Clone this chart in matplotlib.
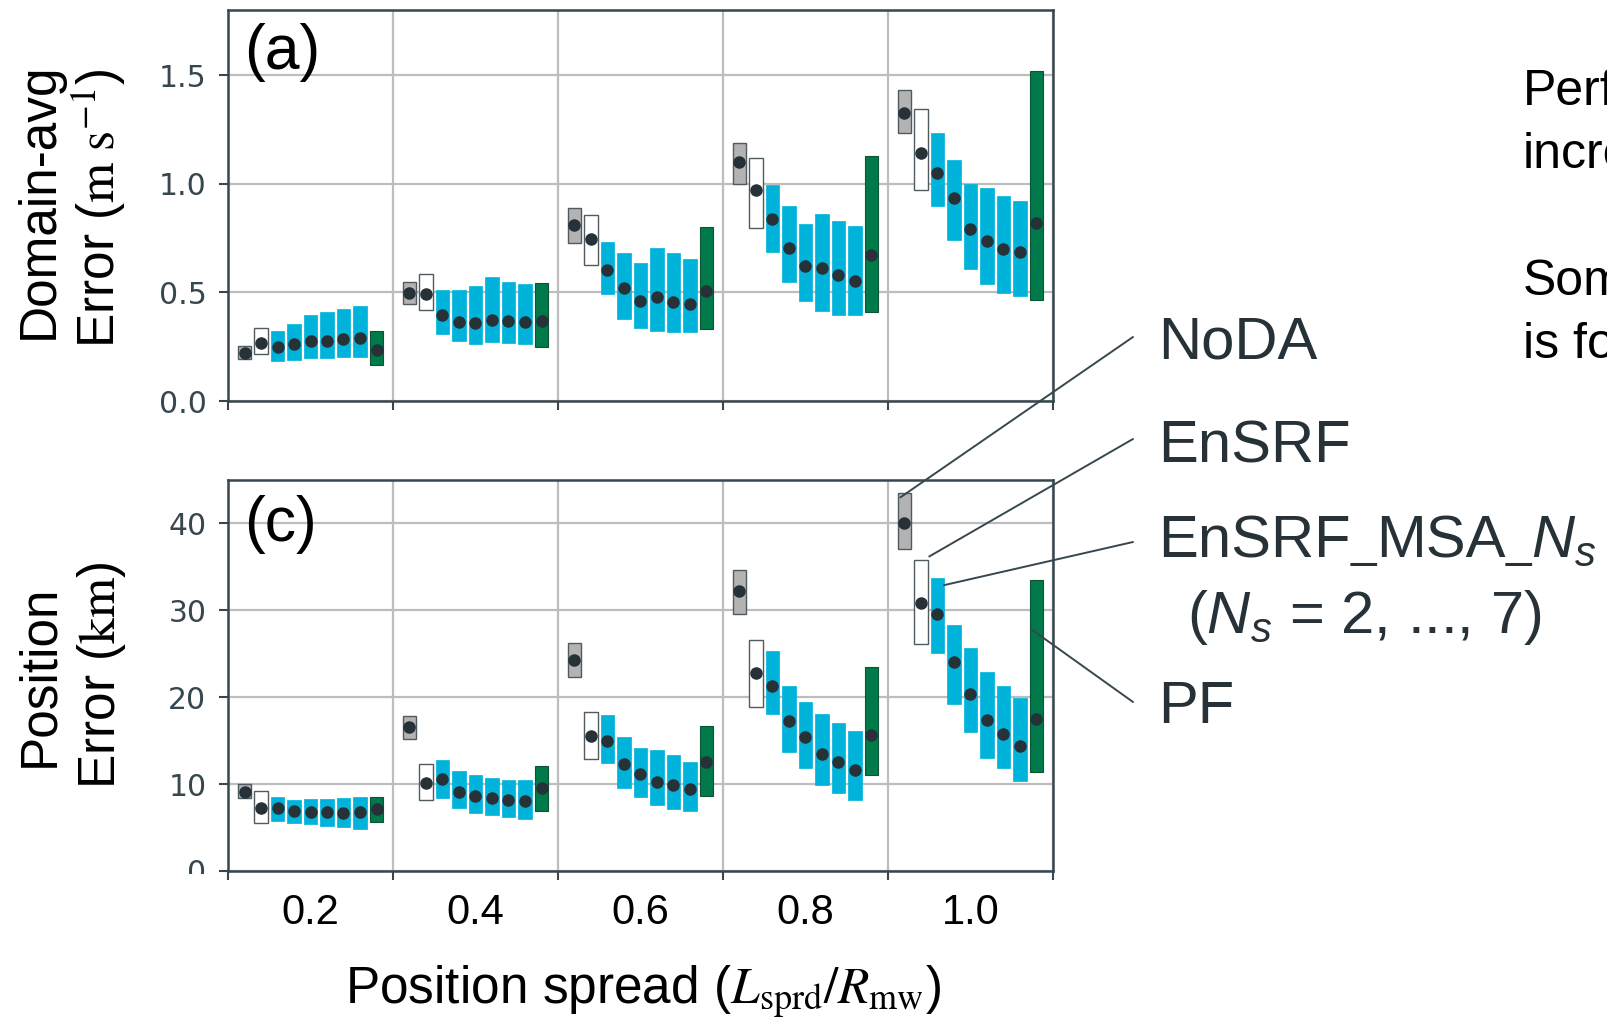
import matplotlib
matplotlib.use("Agg")
import matplotlib.pyplot as plt
import numpy as np
from matplotlib.patches import Rectangle
from matplotlib.ticker import NullFormatter

plt.rcParams['font.family'] = ['Liberation Sans', 'DejaVu Sans']
plt.rcParams['mathtext.fontset'] = 'custom'
plt.rcParams['mathtext.rm'] = 'Liberation Sans'
plt.rcParams['mathtext.it'] = 'Liberation Sans:italic'

# position spread groups
spread = np.array([0.2, 0.4, 0.6, 0.8, 1.0])
spread_labels = ['0.2', '0.4', '0.6', '0.8', '1.0']

# ---- panel (a): domain-avg error (m/s) ----
noda_a_mean = [0.219, 0.497, 0.808, 1.098, 1.325]
noda_a_lo = [0.192, 0.448, 0.729, 0.997, 1.233]
noda_a_hi = [0.253, 0.549, 0.890, 1.189, 1.431]

ensrf_a_mean = [0.268, 0.491, 0.744, 0.970, 1.141]
ensrf_a_lo = [0.215, 0.419, 0.624, 0.795, 0.970]
ensrf_a_hi = [0.336, 0.584, 0.854, 1.120, 1.345]

# rows: Ns = 2..7
msa_a_mean = [[0.250, 0.394, 0.601, 0.838, 1.049],
              [0.261, 0.365, 0.518, 0.706, 0.933],
              [0.277, 0.360, 0.460, 0.621, 0.790],
              [0.277, 0.373, 0.480, 0.611, 0.736],
              [0.285, 0.370, 0.454, 0.578, 0.700],
              [0.288, 0.365, 0.446, 0.554, 0.684]]
msa_a_lo = [[0.184, 0.310, 0.492, 0.686, 0.899],
            [0.187, 0.275, 0.379, 0.548, 0.740],
            [0.196, 0.264, 0.336, 0.459, 0.606],
            [0.196, 0.270, 0.322, 0.416, 0.538],
            [0.201, 0.265, 0.318, 0.394, 0.498],
            [0.202, 0.261, 0.318, 0.397, 0.482]]
msa_a_hi = [[0.321, 0.509, 0.730, 0.993, 1.235],
            [0.354, 0.512, 0.683, 0.899, 1.111],
            [0.394, 0.529, 0.635, 0.816, 1.000],
            [0.408, 0.571, 0.703, 0.862, 0.979],
            [0.423, 0.549, 0.680, 0.828, 0.945],
            [0.436, 0.540, 0.653, 0.807, 0.919]]

pf_a_mean = [0.236, 0.370, 0.508, 0.670, 0.818]
pf_a_lo = [0.166, 0.250, 0.333, 0.410, 0.465]
pf_a_hi = [0.321, 0.543, 0.802, 1.129, 1.520]

# ---- panel (c): position error (km) ----
noda_c_mean = [9.1, 16.6, 24.3, 32.2, 40.1]
noda_c_lo = [8.35, 15.2, 22.3, 29.6, 37.1]
noda_c_hi = [9.96, 17.8, 26.25, 34.6, 43.45]

ensrf_c_mean = [7.24, 10.15, 15.5, 22.8, 30.8]
ensrf_c_lo = [5.56, 8.2, 12.9, 18.9, 26.1]
ensrf_c_hi = [9.16, 12.3, 18.3, 26.6, 35.8]

msa_c_mean = [[7.20, 10.54, 15.0, 21.3, 29.6],
              [6.86, 9.12, 12.3, 17.3, 24.0],
              [6.82, 8.62, 11.2, 15.4, 20.4],
              [6.78, 8.39, 10.3, 13.5, 17.4],
              [6.70, 8.12, 9.9, 12.6, 15.8],
              [6.74, 8.01, 9.4, 11.6, 14.4]]
msa_c_lo = [[5.75, 8.43, 12.45, 18.1, 25.1],
            [5.56, 7.20, 9.5, 13.7, 19.2],
            [5.36, 6.67, 8.54, 11.8, 16.0],
            [5.21, 6.44, 7.62, 9.85, 13.0],
            [5.06, 6.17, 7.16, 8.93, 11.8],
            [4.83, 5.98, 6.86, 8.2, 10.4]]
msa_c_hi = [[8.54, 12.76, 17.9, 25.3, 33.7],
            [8.12, 11.46, 15.4, 21.3, 28.3],
            [8.24, 11.0, 14.2, 19.4, 25.7],
            [8.24, 10.65, 13.9, 18.05, 22.9],
            [8.39, 10.46, 13.4, 17.05, 21.3],
            [8.54, 10.46, 12.6, 16.1, 19.9]]

pf_c_mean = [7.16, 9.5, 12.6, 15.6, 17.5]
pf_c_lo = [5.59, 6.9, 8.6, 11.0, 11.4]
pf_c_hi = [8.47, 12.07, 16.7, 23.45, 33.5]

DARK = '#37474F'
DOT = '#263238'
CYAN = '#00B3DB'
GREEN = '#007A4B'
GRAY = '#B3B3B3'

W, H = 1607, 1021
fig = plt.figure(figsize=(W / 100, H / 100), dpi=100)
ax1 = fig.add_axes([228 / W, 1 - 401 / H, 825 / W, 391 / H])
ax2 = fig.add_axes([228 / W, 1 - 871 / H, 825 / W, 391 / H])


def draw_panel(ax, noda, ensrf, msa_mean, msa_lo, msa_hi, pf):
    # the 9 series: NoDA, EnSRF, MSA Ns=2..7, PF
    series = [noda, ensrf]
    for k in range(6):
        series.append((msa_mean[k], msa_lo[k], msa_hi[k]))
    series.append(pf)
    styles = [(GRAY, '#4f5b60', 1.0), ('white', '#4f5b60', 1.0)] + \
             [(CYAN, CYAN, 0.5)] * 6 + [(GREEN, '#0b5535', 0.8)]
    offsets = np.arange(9) * 0.02 - 0.08
    for (mean, lo, hi), (fc, ec, lw), off in zip(series, styles, offsets):
        lo = np.array(lo)
        hi = np.array(hi)
        ax.bar(spread + off, hi - lo, bottom=lo, width=0.016, color=fc,
               edgecolor=ec, linewidth=lw, zorder=2)
        ax.plot(spread + off, mean, 'o', color=DOT, ms=8, zorder=3)

    ax.set_xlim(0.1, 1.1)
    ax.set_xticks(np.arange(0.1, 1.15, 0.2))
    ax.xaxis.set_major_formatter(NullFormatter())
    ax.grid(True, which='major', color='#bdbdbd', lw=1.6)
    ax.set_axisbelow(True)
    for s in ax.spines.values():
        s.set_color(DARK)
        s.set_linewidth(1.8)
    ax.tick_params(which='major', length=6.5, width=1.5, color=DARK,
                   labelsize=21.5, labelcolor=DARK, pad=9)


draw_panel(ax1, (noda_a_mean, noda_a_lo, noda_a_hi),
           (ensrf_a_mean, ensrf_a_lo, ensrf_a_hi),
           msa_a_mean, msa_a_lo, msa_a_hi,
           (pf_a_mean, pf_a_lo, pf_a_hi))
draw_panel(ax2, (noda_c_mean, noda_c_lo, noda_c_hi),
           (ensrf_c_mean, ensrf_c_lo, ensrf_c_hi),
           msa_c_mean, msa_c_lo, msa_c_hi,
           (pf_c_mean, pf_c_lo, pf_c_hi))

ax1.set_ylim(0, 1.8)
ax1.set_yticks([0, 0.5, 1.0, 1.5], labels=['0.0', '0.5', '1.0', '1.5'],
               fontfamily='DejaVu Sans')
ax2.set_ylim(0, 45)
ax2.set_yticks([0, 10, 20, 30, 40], labels=['0', '10', '20', '30', '40'],
               fontfamily='DejaVu Sans')

ax2.set_xticks(spread, labels=spread_labels, minor=True)
ax2.tick_params(axis='x', which='minor', length=0, pad=16, labelsize=30,
                labelcolor='black')

ax1.text(0.02, 0.891, '(a)', transform=ax1.transAxes, fontsize=45,
         ha='left', va='center')
ax2.text(0.02, 0.887, '(c)', transform=ax2.transAxes, fontsize=45,
         ha='left', va='center')

# y-axis labels (two lines each)
ylab = dict(rotation=90, rotation_mode='anchor', ha='center', va='baseline',
            fontsize=37, color='black', math_fontfamily='stix')
fig.text(53 / W, 1 - 201 / H, 'Domain-avg', **ylab)
fig.text(115 / W, 1 - 208 / H, r'Error ($\mathrm{m\ s^{-1}}$)', **ylab)
fig.text(53 / W, 1 - 676 / H, 'Position', **ylab)
fig.text(115 / W, 1 - 675 / H, r'Error ($\mathrm{km}$)', **ylab)

fig.text(643 / W, 1 - 1004 / H,
         r'Position spread ($L_{\mathrm{sprd}}/R_{\mathrm{mw}}$)',
         fontsize=37, ha='center', va='baseline', math_fontfamily='stix')

# hide lower half of the "0" tick label as in the slide
fig.add_artist(Rectangle((140 / W, 1 - 900 / H), 75 / W, 26 / H,
                         transform=fig.transFigure, facecolor='white',
                         edgecolor='none', zorder=10))

# annotation labels with leader lines to the 1.0 group of panel (c)
labels = ['NoDA', 'EnSRF', r'($N_s$ = 2, ..., 7)', 'PF']
label_x = [1158, 1158, 1187, 1158]
label_base = [358, 462, 633, 723]
for txt, lx, ly in zip(labels, label_x, label_base):
    fig.text(lx / W, 1 - ly / H, txt, fontsize=43, color=DOT,
             ha='left', va='baseline', math_fontfamily='custom')

# "EnSRF_MSA_Ns" written in pieces so the low lines stay short
renderer = fig.canvas.get_renderer()
msa_pieces = [('EnSRF', 43), ('_', 33), ('MSA', 43), ('_', 33), (r'$N_s$', 43)]
px = 1158
for txt, fs in msa_pieces:
    t = fig.text(px / W, 1 - 557 / H, txt, fontsize=fs, color=DOT,
                 ha='left', va='baseline', math_fontfamily='custom')
    px = t.get_window_extent(renderer).x1

leader_xy = [(0.915, 43.0), (0.950, 36.2), (0.968, 32.9), (1.074, 27.8)]
leader_end_y = [337, 439, 542, 702]
for (lx, ly), ey in zip(leader_xy, leader_end_y):
    ax2.annotate('', xy=(lx, ly), xycoords='data',
                 xytext=(1133, H - ey), textcoords='figure pixels',
                 arrowprops=dict(arrowstyle='-', color=DARK, lw=1.4,
                                 shrinkA=0, shrinkB=0),
                 annotation_clip=False)

# slide text cut at the right edge
side_text = ['Performance', 'increases', 'Some', 'is found']
side_base = [105, 168, 295, 358]
for txt, ly in zip(side_text, side_base):
    fig.text(1523 / W, 1 - ly / H, txt, fontsize=36, color='black',
             ha='left', va='baseline')

fig.savefig('out.png', dpi=100)
